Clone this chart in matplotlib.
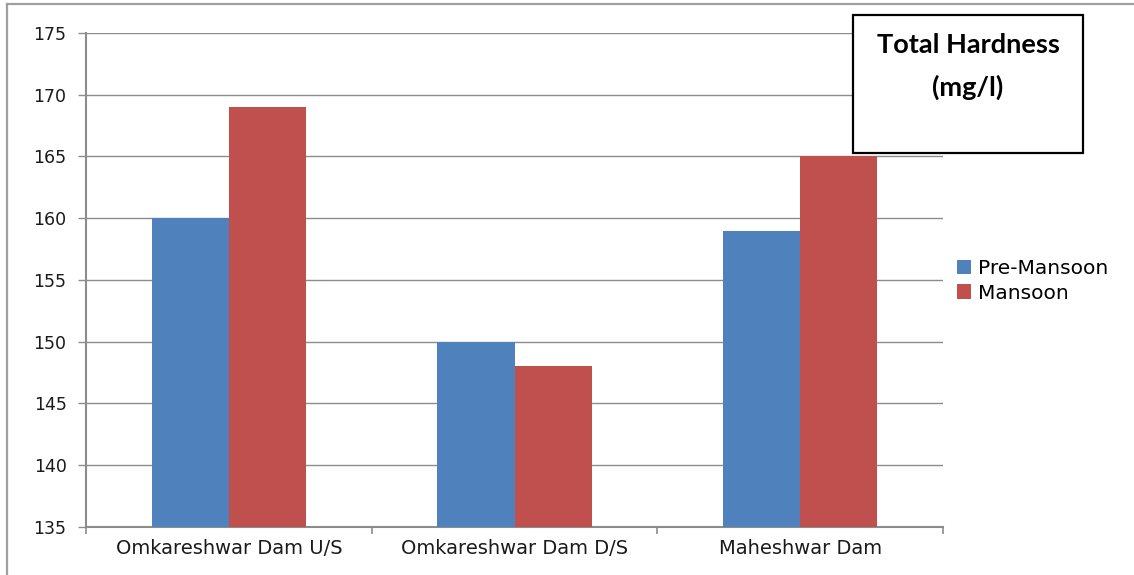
import matplotlib
matplotlib.use("Agg")
import matplotlib.pyplot as plt
from matplotlib.lines import Line2D
from matplotlib.patches import Rectangle, Patch
import numpy as np

plt.rcParams["font.family"] = ["DejaVu Sans"]

# Sampling sites and seasonal total hardness (mg/l)
sites = ["Omkareshwar Dam U/S", "Omkareshwar Dam D/S", "Maheshwar Dam"]
pre_monsoon = [160, 150, 159]
monsoon = [169, 148, 165]
series_names = ["Pre-Mansoon", "Mansoon"]
y_ticks = [135, 140, 145, 150, 155, 160, 165, 170, 175]

blue = "#4F81BD"
red = "#C0504D"
grid_gray = "#8C8C8C"
text_color = "#1a1a1a"

fig = plt.figure(figsize=(11.34, 5.75), dpi=100)
ax = fig.add_axes([86 / 1134, 48 / 575, (943 - 86) / 1134, (527 - 33) / 575])

x = np.arange(len(sites))
w = 0.27
ax.bar(x - w / 2, pre_monsoon, width=w, color=blue, zorder=3)
ax.bar(x + w / 2, monsoon, width=w, color=red, zorder=3)

ax.set_xlim(-0.5, len(sites) - 0.5)
ax.set_ylim(y_ticks[0], y_ticks[-1])
ax.set_yticks(y_ticks)
ax.yaxis.grid(True, color=grid_gray, linewidth=1.0, zorder=0)
ax.set_axisbelow(True)

# Category labels centred, tick marks on category boundaries
ax.set_xticks(x)
ax.set_xticklabels(sites, fontsize=14, color=text_color)
ax.tick_params(axis="x", length=0, pad=9)
ax.set_xticks(np.arange(-0.5, len(sites)), minor=True)
ax.tick_params(axis="x", which="minor", length=5, width=1.2, color=grid_gray, direction="out")
ax.tick_params(axis="y", length=6, width=1.0, color=grid_gray, labelsize=12.5,
               labelcolor=text_color, pad=8)

for side in ("top", "right"):
    ax.spines[side].set_visible(False)
for side in ("left", "bottom"):
    ax.spines[side].set_color(grid_gray)
    ax.spines[side].set_linewidth(1.5)

# Legend on the right
handles = [Patch(facecolor=blue, edgecolor="none"), Patch(facecolor=red, edgecolor="none")]
fig.legend(handles, series_names, loc="center left",
           bbox_to_anchor=(957 / 1134, (575 - 281) / 575), frameon=False,
           fontsize=14.5, handlelength=0.7, handleheight=0.7, handletextpad=0.35,
           labelspacing=0.25, borderaxespad=0, borderpad=0)

# Boxed title
fig.patches.append(Rectangle((853 / 1134, (575 - 153) / 575), 230 / 1134, 138 / 575,
                             transform=fig.transFigure, facecolor="white",
                             edgecolor="black", linewidth=1.6, zorder=5))
fig.text(968 / 1134, (575 - 45) / 575, "Total Hardness", ha="center", va="center",
         fontsize=19.5, fontweight="bold", family="Lato", zorder=6)
fig.text(968 / 1134, (575 - 87) / 575, "(mg/l)", ha="center", va="center",
         fontsize=19.5, fontweight="bold", family="Lato", zorder=6)

# Outer chart frame (left and top edges)
fig.add_artist(Line2D([7 / 1134, 7 / 1134], [0, (575 - 4) / 575], transform=fig.transFigure,
                      color="#A0A0A0", linewidth=1.6))
fig.add_artist(Line2D([7 / 1134, 1], [(575 - 4) / 575, (575 - 4) / 575], transform=fig.transFigure,
                      color="#A0A0A0", linewidth=1.6))

fig.savefig("out.png", dpi=100)
